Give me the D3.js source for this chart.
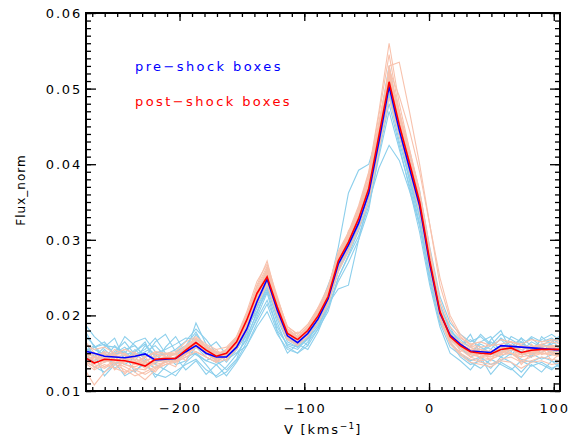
<!DOCTYPE html>
<html>
<head>
<meta charset="utf-8">
<script src="https://cdn.jsdelivr.net/npm/d3@7"></script>
<style>
  body { margin: 0; background: #fff; }
  text { font-family: "DejaVu Sans", sans-serif; }
</style>
</head>
<body>
<div id="chart"></div>
<script>
// Channel velocities (km/s)
const velocity = [-276.5,-268.35,-260.2,-252.05,-243.9,-235.75,-227.6,-219.45,-211.3,-203.15,
  -195.0,-186.85,-178.7,-170.55,-162.4,-154.25,-146.1,-137.95,-129.8,-121.65,
  -113.5,-105.35,-97.2,-89.05,-80.9,-72.75,-64.6,-56.45,-48.3,-40.15,
  -32.0,-23.85,-15.7,-7.55,0.6,8.75,16.9,25.05,33.2,41.35,
  49.5,57.65,65.8,73.95,82.1,90.25,98.4,106.55];

// Mean spectra
const preMean = [.0153,.0150,.0146,.0145,.0144,.0146,.0149,.0141,.0142,.0143,.0152,.0160,.0150,.0145,.0145,.0158,
  .0182,.0218,.0248,.0207,.0173,.0164,.0176,.0195,.0222,.0268,.0293,.0322,.0362,.0430,.0503,.0445,
  .0395,.0345,.0268,.0203,.0174,.0162,.0153,.0152,.0151,.0160,.0159,.0158,.0157,.0156,.0155,.0154];
const postMean = [.0145,.0137,.0142,.0141,.0140,.0137,.0133,.0142,.0143,.0143,.0154,.0164,.0154,.0146,.0150,.0165,
  .0194,.0229,.0251,.0211,.0176,.0168,.0180,.0199,.0225,.0272,.0297,.0328,.0368,.0438,.0509,.0452,
  .0402,.0350,.0272,.0205,.0172,.0160,.0152,.0150,.0149,.0155,.0157,.0151,.0154,.0155,.0155,.0155];

// Individual pre-shock boxes
const preBoxes = [
  [.0190,.0172,.0160,.0158,.0150,.0165,.0170,.0152,.0148,.0155,.0166,.0182,.0168,.0150,.0147,.0162,.0188,.0224,.0255,.0210,.0170,.0160,.0178,.0200,.0230,.0262,.0300,.0330,.0372,.0440,.0520,.0458,.0398,.0340,.0262,.0198,.0170,.0163,.0150,.0162,.0155,.0170,.0160,.0152,.0165,.0158,.0162,.0170],
  [.0140,.0132,.0125,.0138,.0120,.0128,.0135,.0122,.0118,.0126,.0135,.0142,.0128,.0120,.0132,.0148,.0170,.0205,.0232,.0190,.0158,.0150,.0160,.0182,.0205,.0250,.0278,.0305,.0345,.0410,.0470,.0420,.0372,.0318,.0245,.0190,.0158,.0148,.0138,.0130,.0142,.0135,.0128,.0140,.0133,.0138,.0130,.0136],
  [.0162,.0155,.0148,.0150,.0158,.0145,.0152,.0160,.0146,.0140,.0150,.0175,.0158,.0142,.0150,.0165,.0180,.0210,.0238,.0200,.0168,.0160,.0172,.0198,.0232,.0290,.0362,.0392,.0400,.0445,.0498,.0440,.0385,.0330,.0270,.0215,.0180,.0165,.0158,.0150,.0165,.0155,.0148,.0160,.0170,.0158,.0150,.0162],
  [.0150,.0158,.0162,.0148,.0152,.0140,.0160,.0148,.0138,.0145,.0158,.0165,.0148,.0152,.0138,.0155,.0175,.0215,.0250,.0205,.0172,.0162,.0175,.0190,.0218,.0265,.0290,.0318,.0365,.0450,.0530,.0462,.0400,.0352,.0280,.0212,.0172,.0160,.0168,.0158,.0148,.0158,.0165,.0150,.0145,.0160,.0168,.0152],
  [.0145,.0140,.0150,.0135,.0142,.0150,.0138,.0130,.0140,.0138,.0145,.0150,.0140,.0135,.0142,.0150,.0168,.0195,.0220,.0185,.0160,.0155,.0170,.0185,.0210,.0250,.0280,.0312,.0350,.0395,.0425,.0405,.0365,.0320,.0260,.0200,.0165,.0150,.0140,.0145,.0135,.0140,.0150,.0142,.0138,.0145,.0140,.0135],
  [.0175,.0160,.0138,.0152,.0165,.0148,.0155,.0170,.0150,.0135,.0140,.0158,.0152,.0140,.0128,.0142,.0178,.0225,.0262,.0212,.0175,.0165,.0182,.0205,.0225,.0270,.0298,.0325,.0370,.0438,.0510,.0455,.0405,.0355,.0275,.0208,.0178,.0160,.0150,.0165,.0172,.0150,.0158,.0170,.0160,.0150,.0165,.0175],
  [.0135,.0145,.0152,.0130,.0140,.0155,.0142,.0135,.0128,.0120,.0138,.0150,.0135,.0118,.0125,.0140,.0165,.0198,.0230,.0180,.0162,.0158,.0168,.0185,.0215,.0258,.0285,.0315,.0355,.0420,.0490,.0430,.0380,.0330,.0255,.0195,.0165,.0145,.0135,.0140,.0130,.0145,.0138,.0125,.0140,.0135,.0128,.0140],
  [.0158,.0150,.0142,.0160,.0148,.0152,.0162,.0145,.0150,.0148,.0155,.0148,.0140,.0148,.0152,.0150,.0160,.0185,.0205,.0175,.0155,.0150,.0165,.0182,.0215,.0260,.0288,.0320,.0365,.0445,.0515,.0440,.0378,.0322,.0250,.0192,.0168,.0158,.0145,.0150,.0160,.0168,.0155,.0148,.0152,.0162,.0158,.0150],
  [.0148,.0138,.0155,.0142,.0135,.0145,.0150,.0138,.0142,.0150,.0160,.0158,.0145,.0138,.0148,.0160,.0172,.0202,.0240,.0195,.0165,.0158,.0170,.0192,.0215,.0235,.0240,.0300,.0355,.0425,.0495,.0448,.0395,.0342,.0268,.0205,.0172,.0155,.0148,.0158,.0150,.0145,.0155,.0165,.0150,.0142,.0148,.0158],
  [.0152,.0160,.0145,.0148,.0155,.0160,.0145,.0150,.0155,.0162,.0170,.0168,.0158,.0150,.0145,.0155,.0178,.0212,.0245,.0208,.0178,.0165,.0175,.0195,.0225,.0262,.0292,.0322,.0360,.0428,.0505,.0465,.0415,.0365,.0290,.0225,.0190,.0175,.0165,.0172,.0160,.0175,.0168,.0160,.0172,.0165,.0170,.0160],
  [.0168,.0145,.0158,.0170,.0140,.0152,.0165,.0135,.0158,.0172,.0150,.0190,.0162,.0138,.0155,.0170,.0195,.0230,.0258,.0215,.0168,.0172,.0160,.0205,.0240,.0275,.0310,.0332,.0378,.0448,.0512,.0470,.0392,.0338,.0255,.0210,.0185,.0158,.0175,.0148,.0168,.0180,.0152,.0170,.0145,.0172,.0160,.0148],
  [.0128,.0150,.0120,.0135,.0148,.0125,.0140,.0118,.0132,.0145,.0128,.0140,.0122,.0135,.0120,.0138,.0160,.0190,.0215,.0178,.0150,.0162,.0155,.0178,.0210,.0245,.0270,.0300,.0340,.0415,.0480,.0425,.0368,.0310,.0240,.0185,.0150,.0140,.0128,.0145,.0122,.0138,.0130,.0118,.0135,.0125,.0140,.0128],
  [.0182,.0158,.0165,.0148,.0172,.0160,.0145,.0165,.0175,.0152,.0160,.0178,.0155,.0165,.0148,.0168,.0185,.0205,.0235,.0198,.0175,.0158,.0172,.0188,.0220,.0272,.0300,.0328,.0368,.0432,.0495,.0438,.0388,.0338,.0262,.0205,.0180,.0168,.0158,.0175,.0162,.0150,.0172,.0165,.0155,.0168,.0175,.0165]
];

// Individual post-shock boxes
const postBoxes = [
  [.0148,.0140,.0145,.0138,.0142,.0135,.0140,.0145,.0148,.0150,.0158,.0168,.0160,.0150,.0152,.0170,.0200,.0240,.0272,.0220,.0178,.0170,.0185,.0205,.0235,.0285,.0310,.0345,.0390,.0470,.0560,.0480,.0420,.0362,.0280,.0210,.0175,.0162,.0155,.0150,.0148,.0155,.0158,.0150,.0152,.0155,.0158,.0155],
  [.0140,.0132,.0138,.0145,.0135,.0130,.0128,.0140,.0145,.0142,.0150,.0160,.0152,.0148,.0150,.0162,.0190,.0225,.0255,.0215,.0180,.0172,.0185,.0205,.0230,.0270,.0300,.0330,.0360,.0420,.0530,.0535,.0470,.0400,.0320,.0240,.0195,.0172,.0160,.0155,.0150,.0152,.0158,.0155,.0148,.0152,.0160,.0158],
  [.0130,.0108,.0125,.0135,.0128,.0120,.0125,.0132,.0138,.0140,.0148,.0158,.0150,.0140,.0145,.0158,.0185,.0218,.0245,.0205,.0170,.0162,.0175,.0195,.0218,.0262,.0290,.0322,.0360,.0430,.0500,.0445,.0395,.0345,.0268,.0200,.0168,.0155,.0145,.0140,.0142,.0148,.0150,.0140,.0145,.0150,.0148,.0145],
  [.0155,.0148,.0150,.0145,.0148,.0142,.0138,.0148,.0150,.0148,.0160,.0170,.0158,.0148,.0155,.0168,.0198,.0235,.0262,.0218,.0182,.0172,.0182,.0202,.0228,.0278,.0302,.0335,.0378,.0448,.0525,.0462,.0410,.0355,.0275,.0208,.0175,.0165,.0158,.0152,.0150,.0158,.0160,.0155,.0158,.0160,.0158,.0160],
  [.0138,.0128,.0135,.0130,.0125,.0128,.0122,.0130,.0135,.0138,.0145,.0152,.0145,.0138,.0142,.0155,.0180,.0215,.0240,.0200,.0168,.0160,.0172,.0190,.0215,.0258,.0285,.0315,.0352,.0420,.0488,.0438,.0390,.0338,.0262,.0198,.0165,.0150,.0142,.0138,.0135,.0142,.0145,.0138,.0140,.0145,.0142,.0140],
  [.0150,.0145,.0140,.0148,.0150,.0140,.0135,.0142,.0145,.0150,.0155,.0165,.0158,.0152,.0150,.0165,.0195,.0230,.0258,.0222,.0185,.0175,.0188,.0210,.0238,.0282,.0308,.0340,.0385,.0455,.0525,.0490,.0445,.0390,.0320,.0250,.0200,.0175,.0162,.0158,.0160,.0162,.0165,.0160,.0158,.0162,.0165,.0162],
  [.0145,.0150,.0142,.0135,.0140,.0145,.0132,.0138,.0140,.0145,.0152,.0162,.0155,.0145,.0148,.0160,.0192,.0228,.0250,.0210,.0175,.0168,.0180,.0200,.0225,.0270,.0298,.0330,.0372,.0442,.0512,.0455,.0402,.0350,.0272,.0205,.0172,.0160,.0150,.0148,.0145,.0150,.0155,.0148,.0150,.0155,.0152,.0150],
  [.0142,.0135,.0130,.0138,.0132,.0125,.0115,.0128,.0135,.0140,.0148,.0158,.0150,.0142,.0148,.0162,.0188,.0222,.0248,.0208,.0172,.0165,.0178,.0198,.0222,.0268,.0295,.0325,.0365,.0435,.0505,.0450,.0398,.0345,.0268,.0202,.0170,.0158,.0148,.0145,.0142,.0148,.0150,.0145,.0148,.0150,.0148,.0148],
  [.0162,.0155,.0158,.0150,.0155,.0150,.0145,.0152,.0150,.0152,.0165,.0172,.0162,.0155,.0158,.0172,.0202,.0238,.0265,.0222,.0185,.0175,.0188,.0208,.0232,.0280,.0305,.0338,.0380,.0450,.0518,.0458,.0405,.0352,.0272,.0205,.0172,.0162,.0155,.0152,.0150,.0155,.0160,.0158,.0155,.0158,.0160,.0158],
  [.0148,.0142,.0148,.0142,.0138,.0140,.0130,.0140,.0142,.0145,.0155,.0168,.0158,.0148,.0155,.0172,.0205,.0245,.0268,.0225,.0182,.0172,.0185,.0205,.0232,.0280,.0308,.0342,.0388,.0465,.0545,.0470,.0412,.0355,.0275,.0208,.0175,.0162,.0150,.0148,.0145,.0152,.0155,.0150,.0152,.0155,.0155,.0152],
  [.0135,.0140,.0132,.0140,.0145,.0138,.0135,.0142,.0140,.0138,.0150,.0160,.0150,.0142,.0148,.0160,.0188,.0222,.0245,.0205,.0172,.0165,.0178,.0198,.0222,.0268,.0295,.0325,.0365,.0432,.0500,.0445,.0392,.0340,.0262,.0195,.0162,.0148,.0138,.0135,.0132,.0140,.0138,.0130,.0138,.0140,.0135,.0138],
  [.0152,.0145,.0152,.0148,.0142,.0148,.0140,.0145,.0148,.0150,.0158,.0165,.0155,.0150,.0152,.0165,.0195,.0230,.0255,.0215,.0180,.0170,.0182,.0202,.0228,.0275,.0302,.0335,.0375,.0448,.0520,.0470,.0420,.0365,.0288,.0220,.0185,.0170,.0162,.0165,.0160,.0168,.0165,.0162,.0168,.0165,.0168,.0165],
  [.0140,.0145,.0138,.0142,.0135,.0132,.0138,.0135,.0138,.0142,.0150,.0162,.0152,.0145,.0150,.0165,.0192,.0225,.0252,.0212,.0178,.0168,.0180,.0200,.0228,.0272,.0300,.0332,.0372,.0440,.0508,.0450,.0400,.0348,.0270,.0202,.0170,.0158,.0150,.0145,.0148,.0152,.0150,.0148,.0152,.0150,.0150,.0150],
  [.0168,.0150,.0140,.0155,.0148,.0135,.0145,.0150,.0145,.0148,.0160,.0170,.0160,.0152,.0150,.0168,.0198,.0232,.0258,.0218,.0182,.0172,.0185,.0205,.0230,.0278,.0305,.0338,.0378,.0452,.0515,.0460,.0408,.0352,.0272,.0205,.0172,.0160,.0152,.0155,.0152,.0158,.0155,.0160,.0155,.0150,.0158,.0155],
  [.0132,.0145,.0150,.0128,.0140,.0152,.0135,.0125,.0142,.0150,.0140,.0165,.0148,.0155,.0140,.0162,.0192,.0218,.0262,.0212,.0170,.0178,.0175,.0210,.0225,.0265,.0312,.0330,.0378,.0455,.0522,.0468,.0410,.0345,.0285,.0198,.0178,.0152,.0160,.0142,.0155,.0148,.0162,.0135,.0150,.0158,.0140,.0152],
  [.0158,.0130,.0142,.0150,.0122,.0138,.0145,.0130,.0138,.0132,.0158,.0152,.0145,.0138,.0155,.0158,.0185,.0228,.0248,.0218,.0175,.0165,.0182,.0195,.0235,.0278,.0292,.0342,.0370,.0440,.0530,.0462,.0405,.0360,.0270,.0212,.0168,.0165,.0145,.0155,.0140,.0160,.0150,.0145,.0162,.0148,.0152,.0145]
];

// Axis ticks
const xMajor = [-200, -100, 0, 100];
const yMajor = [0.01, 0.02, 0.03, 0.04, 0.05, 0.06];
const legendItems = [
  {label: "pre\u2212shock boxes", color: "#0000ff"},
  {label: "post\u2212shock boxes", color: "#ff0000"}
];

// Set up chart dimensions
const W = 569, H = 439;
const margin = {top: 13, right: 9, bottom: 48, left: 86};
const width = W - margin.left - margin.right;
const height = H - margin.top - margin.bottom;

const svg = d3.select("#chart")
  .append("svg")
  .attr("width", W)
  .attr("height", H);

const g = svg.append("g")
  .attr("transform", `translate(${margin.left},${margin.top})`);

const x = d3.scaleLinear().domain([-275, 105]).range([0, width]);
const y = d3.scaleLinear().domain([0.01, 0.06]).range([height, 0]);

g.append("clipPath").attr("id", "clip")
  .append("rect").attr("width", width).attr("height", height);

const line = d3.line()
  .x((d, i) => x(velocity[i]))
  .y(d => y(d));

const plot = g.append("g").attr("clip-path", "url(#clip)");

// Faint individual spectra
plot.selectAll(".pre")
  .data(preBoxes)
  .enter().append("path")
  .attr("d", line)
  .attr("fill", "none")
  .attr("stroke", "#8ccfec")
  .attr("stroke-width", 1.1);

plot.selectAll(".post")
  .data(postBoxes)
  .enter().append("path")
  .attr("d", line)
  .attr("fill", "none")
  .attr("stroke", "#f8c2ad")
  .attr("stroke-width", 1.1);

// Means
plot.append("path").attr("d", line(preMean))
  .attr("fill", "none").attr("stroke", "#0000ff").attr("stroke-width", 1.6);
plot.append("path").attr("d", line(postMean))
  .attr("fill", "none").attr("stroke", "#ff0000").attr("stroke-width", 1.6);

// Axes (IDL style: ticks inside, on all four sides)
const xMinor = d3.range(-270, 105, 10);
const yMinor = d3.range(10, 61).map(v => v / 1000);

function styleAxis(sel) {
  sel.select(".domain").remove();
  sel.selectAll("line").attr("stroke", "#000").attr("stroke-width", 1.3);
}

g.append("g").attr("transform", `translate(0,${height})`)
  .call(d3.axisBottom(x).tickValues(xMinor).tickSize(-4).tickFormat(""))
  .call(styleAxis);
g.append("g").attr("transform", `translate(0,${height})`)
  .call(d3.axisBottom(x).tickValues(xMajor).tickSize(-8).tickFormat(""))
  .call(styleAxis);
g.append("g")
  .call(d3.axisTop(x).tickValues(xMinor).tickSize(-4).tickFormat(""))
  .call(styleAxis);
g.append("g")
  .call(d3.axisTop(x).tickValues(xMajor).tickSize(-8).tickFormat(""))
  .call(styleAxis);
g.append("g")
  .call(d3.axisLeft(y).tickValues(yMinor).tickSize(-5).tickFormat(""))
  .call(styleAxis);
g.append("g")
  .call(d3.axisLeft(y).tickValues(yMajor).tickSize(-10).tickFormat(""))
  .call(styleAxis);
g.append("g").attr("transform", `translate(${width},0)`)
  .call(d3.axisRight(y).tickValues(yMinor).tickSize(-5).tickFormat(""))
  .call(styleAxis);
g.append("g").attr("transform", `translate(${width},0)`)
  .call(d3.axisRight(y).tickValues(yMajor).tickSize(-10).tickFormat(""))
  .call(styleAxis);

// Frame
g.append("rect")
  .attr("width", width).attr("height", height)
  .attr("fill", "none").attr("stroke", "#000").attr("stroke-width", 2);

// Tick labels
const labelStyle = sel => sel
  .attr("font-size", 13)
  .attr("letter-spacing", "1.8px")
  .attr("fill", "#000");

g.selectAll(".xlab")
  .data(xMajor)
  .enter().append("text")
  .attr("x", d => x(d) + 0.9)
  .attr("y", height + 22)
  .attr("text-anchor", "middle")
  .text(d => d < 0 ? "\u2212" + Math.abs(d) : String(d))
  .call(labelStyle);

g.selectAll(".ylab")
  .data(yMajor)
  .enter().append("text")
  .attr("x", -4)
  .attr("y", d => y(d) + 5)
  .attr("text-anchor", "end")
  .text(d => d.toFixed(2))
  .call(labelStyle);

// Axis titles
const xt = g.append("text")
  .attr("x", width / 2)
  .attr("y", height + 43)
  .attr("text-anchor", "middle")
  .call(labelStyle);
xt.append("tspan").text("V [kms");
xt.append("tspan").attr("dy", -5).attr("font-size", 9).attr("letter-spacing", "1px").text("\u22121");
xt.append("tspan").attr("dy", 5).text("]");

svg.append("text")
  .attr("transform", `translate(25,${margin.top + height / 2 - 12}) rotate(-90)`)
  .attr("text-anchor", "middle")
  .attr("font-size", 12)
  .attr("letter-spacing", "1px")
  .attr("fill", "#000")
  .text("Flux_norm");

// Legend
g.selectAll(".legend")
  .data(legendItems)
  .enter().append("text")
  .attr("x", 49)
  .attr("y", (d, i) => 58 + i * 35)
  .attr("fill", d => d.color)
  .attr("font-size", 13)
  .attr("letter-spacing", "2.4px")
  .text(d => d.label);
</script>
</body>
</html>
